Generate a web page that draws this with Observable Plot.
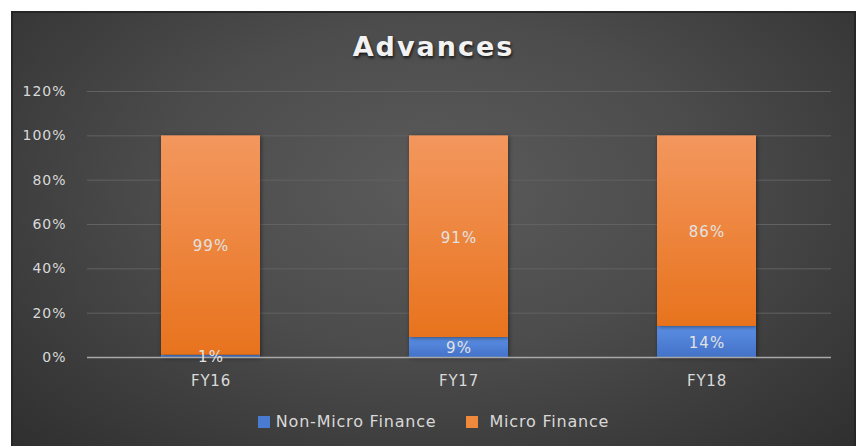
<!DOCTYPE html>
<html>
<head>
<meta charset="utf-8">
<script src="https://cdn.jsdelivr.net/npm/d3@7"></script>
<script src="https://cdn.jsdelivr.net/npm/@observablehq/plot@0.6"></script>
<style>
  html, body { margin: 0; padding: 0; background: #fff; }
  #frame {
    position: absolute; left: 11px; top: 11px; width: 841px; height: 433px;
    border: 2px solid #262626; border-bottom: none;
    background: radial-gradient(ellipse farthest-corner at 50% 40%, #5b5b5b 0%, #4c4c4c 45%, #2f2f2f 100%);
    font-family: "DejaVu Sans", sans-serif;
  }
  #title {
    height: 62px; box-sizing: border-box; padding-top: 19px;
    text-align: center; font-weight: bold; font-size: 27px; letter-spacing: 2px;
    color: #f2f2f2; text-shadow: 1px 2px 3px rgba(0,0,0,0.7); line-height: 30px;
  }
  #legend {
    display: flex; justify-content: center; align-items: center; gap: 0;
    font-size: 16px; letter-spacing: 0.8px; color: #d9d9d9; margin-top: 17px;
  }
  .item { display: flex; align-items: center; margin: 0 15px; }
  .sw { width: 12px; height: 12px; margin-right: 6px; }
  .item + .item .sw { margin-right: 11px; }
  g[aria-label="bar"] rect { filter: drop-shadow(1px 1px 2px rgba(0,0,0,0.45)); }
</style>
</head>
<body>
<div id="frame">
  <div id="title">Advances</div>
  <div id="chart"></div>
  <div id="legend"></div>
</div>
<script>
const categories = ["FY16", "FY17", "FY18"];
const seriesNames = ["Non-Micro Finance", "Micro Finance"];
const nonMicro = [1, 9, 14];
const micro = [99, 91, 86];
const yTicks = [0, 0.2, 0.4, 0.6, 0.8, 1.0, 1.2];
const seriesFill = ["url(#gBlue)", "url(#gOrange)"];
const swatchColors = ["#4a7bd3", "#ef8a3c"];

const table = [];
categories.forEach((c, i) => {
  table.push({cat: c, series: seriesNames[0], value: nonMicro[i] / 100, label: nonMicro[i] + "%"});
  table.push({cat: c, series: seriesNames[1], value: micro[i] / 100, label: micro[i] + "%"});
});

const plot = Plot.plot({
  width: 841,
  height: 320,
  marginTop: 16,
  marginBottom: 38,
  marginLeft: 74,
  marginRight: 23,
  style: {background: "transparent", color: "#d9d9d9", fontFamily: "DejaVu Sans, sans-serif", overflow: "visible"},
  x: {domain: categories, paddingInner: 0.6, paddingOuter: 0.3, label: null},
  y: {domain: [0, 1.2], label: null},
  color: {domain: seriesNames, range: seriesFill},
  marks: [
    Plot.gridY(yTicks.slice(1), {stroke: "#626262", strokeOpacity: 1, strokeWidth: 1}),
    Plot.barY(table, Plot.stackY({x: "cat", y: "value", z: "series", fill: "series"})),
    Plot.ruleY([0], {stroke: "#a8a8a8", strokeWidth: 1.5}),
    Plot.text(table, Plot.stackY({x: "cat", y: "value", z: "series", text: "label",
      fill: "#e2e2e2", fontSize: 15, dy: 1})),
    Plot.axisY({ticks: yTicks, tickFormat: d3.format(".0%"), tickSize: 0, tickPadding: 21,
      fontSize: 14, fill: "#d9d9d9"}),
    Plot.axisX({tickSize: 0, tickPadding: 18, fontSize: 15, fill: "#d9d9d9"})
  ]
});

const svg = d3.select(plot);
const defs = svg.insert("defs", ":first-child");
const gO = defs.append("linearGradient").attr("id", "gOrange").attr("x1", 0).attr("y1", 0).attr("x2", 0).attr("y2", 1);
gO.append("stop").attr("offset", "0%").attr("stop-color", "#f3975e");
gO.append("stop").attr("offset", "100%").attr("stop-color", "#e8731d");
const gB = defs.append("linearGradient").attr("id", "gBlue").attr("x1", 0).attr("y1", 0).attr("x2", 0).attr("y2", 1);
gB.append("stop").attr("offset", "0%").attr("stop-color", "#5b8fe3");
gB.append("stop").attr("offset", "100%").attr("stop-color", "#4372c9");
svg.selectAll('g[aria-label="y-axis tick label"] text, g[aria-label="text"] text').style("letter-spacing", "1px");
svg.selectAll('g[aria-label="x-axis tick label"] text').style("letter-spacing", "0.8px");

document.getElementById("chart").appendChild(plot);

const legend = document.getElementById("legend");
seriesNames.forEach((s, i) => {
  const it = document.createElement("div");
  it.className = "item";
  const sw = document.createElement("div");
  sw.className = "sw";
  sw.style.background = swatchColors[i];
  const tx = document.createElement("span");
  tx.textContent = s;
  it.appendChild(sw); it.appendChild(tx);
  legend.appendChild(it);
});
</script>
</body>
</html>
